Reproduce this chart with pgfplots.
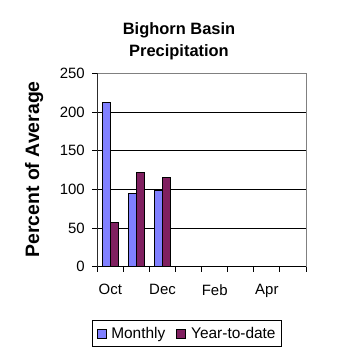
\documentclass[border=0pt]{standalone}
\usepackage{pgfplots}
\pgfplotsset{compat=1.18}
\usepackage{fontspec}
\setmainfont{Liberation Sans}
\definecolor{monthly}{HTML}{8080FF}
\definecolor{ytd}{HTML}{802060}
\begin{document}
\begin{tikzpicture}
\path[use as bounding box] (0,0) rectangle (358bp,358bp);
\begin{axis}[
  at={(97.3bp,91.3bp)}, anchor=south west,
  scale only axis, width=208.7bp, height=193.4bp,
  xmin=0.5, xmax=8.5, ymin=0, ymax=250,
  ybar=0pt, bar width=8.3bp,
  xtick={1,3,5,7}, xticklabels={Oct,Dec,Feb,Apr},
  minor xtick={0.5,1.5,...,8.5},
  ytick={0,50,100,150,200},
  extra y ticks={250}, extra y tick style={grid=none},
  ymajorgrids, grid style={black, line width=0.9bp},
  tick align=outside, tick pos=left,
  major tick length=5bp, minor tick length=5bp,
  x tick style={draw=none}, minor x tick style={draw=black, line width=0.9bp},
  y tick style={black, line width=0.9bp},
  axis line style={gray, line width=0.9bp},
  tick label style={font=\fontsize{15}{17}\selectfont},
  /pgf/number format/assume math mode=true,
  yticklabel style={xshift=-4bp},
  xticklabel style={yshift=-9bp},
  ylabel={Percent of Average},
  ylabel style={font=\bfseries\fontsize{19.5}{21}\selectfont, at={(axis description cs:-0.303,0.503)}, anchor=center},
  legend columns=2,
  legend style={at={(axis description cs:0.430,-0.3466)}, anchor=center, draw=black, line width=0.9bp,
    font=\fontsize{15.5}{17}\selectfont, inner xsep=4bp, inner ysep=4.5bp,
    /tikz/every odd column/.append style={column sep=3bp},
    /tikz/every even column/.append style={column sep=9bp}},
  legend image code/.code={\draw[#1, draw=black, line width=0.8bp] (0bp,-4.5bp) rectangle (9bp,4.5bp);},
]
\addplot[fill=monthly, draw=black, line width=0.8bp] coordinates {(1,212) (2,95) (3,99)};
\addlegendentry{Monthly}
\addplot[fill=ytd, draw=black, line width=0.8bp] coordinates {(1,57) (2,122) (3,115.5)};
\addlegendentry{Year-to-date}
\draw[black, line width=0.9bp] (rel axis cs:0,1) -- (rel axis cs:0,0) -- (rel axis cs:1,0);
\end{axis}
\node[anchor=base, font=\bfseries\fontsize{16.5}{18}\selectfont] at (179bp,323.7bp) {Bighorn Basin};
\node[anchor=base, font=\bfseries\fontsize{16.5}{18}\selectfont] at (179bp,301.3bp) {Precipitation};
\end{tikzpicture}
\end{document}
